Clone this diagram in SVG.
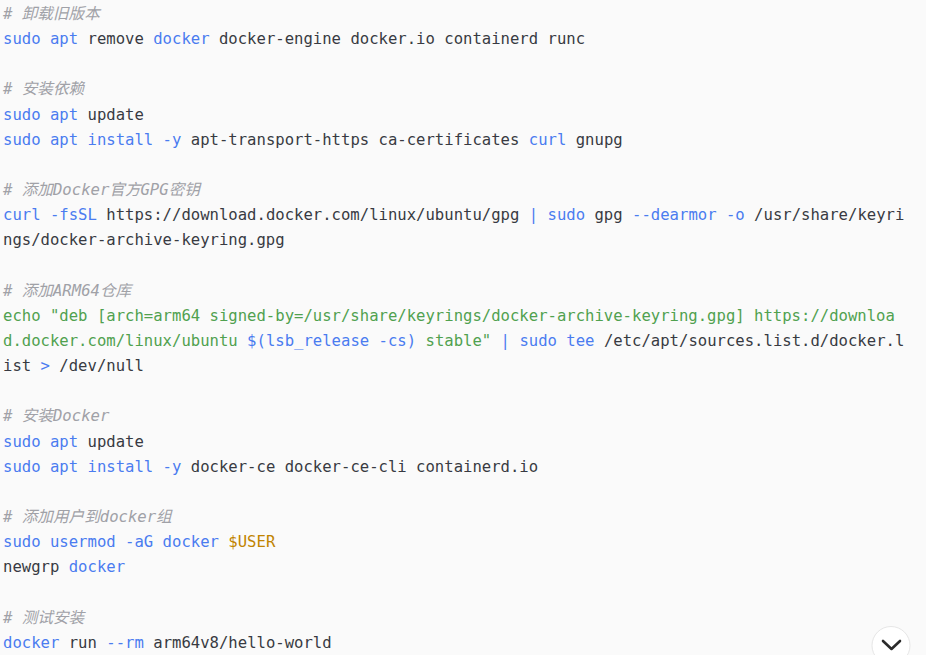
<svg xmlns="http://www.w3.org/2000/svg" width="926" height="655" viewBox="0 0 926 655">
<style>
text{font-family:"DejaVu Sans Mono","Liberation Mono","Noto Sans CJK SC",monospace;font-size:15.6px;fill:#383a42;white-space:pre}
.c{fill:#a0a1a7;font-style:italic;font-family:"DejaVu Sans Mono","Noto Sans CJK SC",monospace}
.k{fill:#4a7cf0}
.s{fill:#50a14f}
.v{fill:#c18401}
</style>
<rect width="926" height="655" fill="#fafafa"/>
<g id="code">
<text x="3" y="19" class="c" xml:space="preserve"># 卸载旧版本</text>
<text x="3" y="44.15" xml:space="preserve"><tspan class="k">sudo apt</tspan> remove <tspan class="k">docker</tspan> docker-engine docker.io containerd runc</text>
<text x="3" y="94.45" class="c" xml:space="preserve"># 安装依赖</text>
<text x="3" y="119.6" xml:space="preserve"><tspan class="k">sudo apt</tspan> update</text>
<text x="3" y="144.75" xml:space="preserve"><tspan class="k">sudo apt install -y</tspan> apt-transport-https ca-certificates <tspan class="k">curl</tspan> gnupg</text>
<text x="3" y="195.05" class="c" xml:space="preserve"># 添加Docker官方GPG密钥</text>
<text x="3" y="220.2" xml:space="preserve"><tspan class="k">curl -fsSL</tspan> https://download.docker.com/linux/ubuntu/gpg <tspan class="k">|</tspan> <tspan class="k">sudo</tspan> gpg <tspan class="k">--dearmor -o</tspan> /usr/share/keyri</text>
<text x="3" y="245.35" xml:space="preserve">ngs/docker-archive-keyring.gpg</text>
<text x="3" y="295.65" class="c" xml:space="preserve"># 添加ARM64仓库</text>
<text x="3" y="320.8" class="s" xml:space="preserve">echo "deb [arch=arm64 signed-by=/usr/share/keyrings/docker-archive-keyring.gpg] https://downloa</text>
<text x="3" y="345.95" xml:space="preserve"><tspan class="s">d.docker.com/linux/ubuntu </tspan><tspan class="k">$(lsb_release -cs)</tspan><tspan class="s"> stable"</tspan> <tspan class="k">|</tspan> <tspan class="k">sudo tee</tspan> /etc/apt/sources.list.d/docker.l</text>
<text x="3" y="371.1" xml:space="preserve">ist <tspan class="k">&gt;</tspan> /dev/null</text>
<text x="3" y="421.4" class="c" xml:space="preserve"># 安装Docker</text>
<text x="3" y="446.55" xml:space="preserve"><tspan class="k">sudo apt</tspan> update</text>
<text x="3" y="471.7" xml:space="preserve"><tspan class="k">sudo apt install -y</tspan> docker-ce docker-ce-cli containerd.io</text>
<text x="3" y="522" class="c" xml:space="preserve"># 添加用户到docker组</text>
<text x="3" y="547.15" xml:space="preserve"><tspan class="k">sudo usermod -aG docker</tspan> <tspan class="v">$USER</tspan></text>
<text x="3" y="572.3" xml:space="preserve">newgrp <tspan class="k">docker</tspan></text>
<text x="3" y="622.6" class="c" xml:space="preserve"># 测试安装</text>
<text x="3" y="647.75" xml:space="preserve"><tspan class="k">docker</tspan> run <tspan class="k">--rm</tspan> arm64v8/hello-world</text>
</g>
<g id="scroll-button">
<circle cx="891" cy="645.5" r="19" fill="#ffffff" stroke="#e6e6e6" stroke-width="1"/>
<polyline points="883,641 891.5,649 900,641" fill="none" stroke="#2b2b2b" stroke-width="2.6" stroke-linecap="round" stroke-linejoin="round"/>
</g>
</svg>
